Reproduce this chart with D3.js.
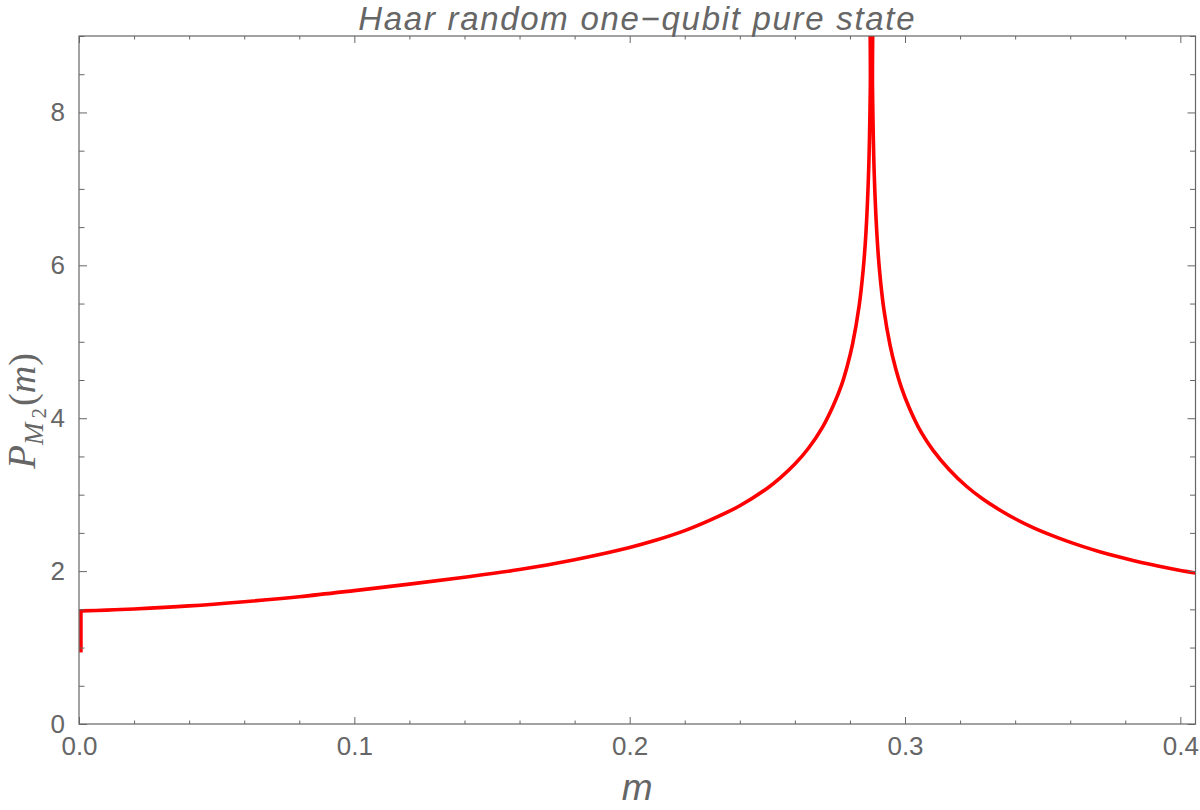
<!DOCTYPE html>
<html><head><meta charset="utf-8">
<script src="https://cdn.jsdelivr.net/npm/d3@7"></script>
<style>body{margin:0;background:#fff}svg{display:block}</style>
</head><body>
<svg id="c" width="1200" height="810"></svg>
<script>
// Data: m (x) and P_{M2}(m) (y)
const mValues = [0.0007, 0.0007, 0.01, 0.02, 0.04, 0.06, 0.08, 0.10, 0.12, 0.14, 0.16, 0.18, 0.20, 0.21, 0.22, 0.23, 0.24, 0.25, 0.255, 0.26, 0.265, 0.27, 0.274, 0.277, 0.279, 0.281, 0.2833, 0.2848, 0.2858, 0.2868, 0.2874, 0.2877,
                 0.2879, 0.2882, 0.2888, 0.2898, 0.2908, 0.2923, 0.2946, 0.2966, 0.2986, 0.3016, 0.3058, 0.3102, 0.316, 0.3223, 0.328, 0.3344, 0.3405, 0.3465, 0.3526, 0.3586, 0.3647, 0.3707, 0.3768, 0.3828, 0.389, 0.395, 0.4005, 0.4055];
const pValues = [0.96, 1.48, 1.49, 1.505, 1.545, 1.60, 1.665, 1.745, 1.83, 1.92, 2.02, 2.15, 2.31, 2.41, 2.53, 2.68, 2.855, 3.085, 3.23, 3.40, 3.61, 3.88, 4.17, 4.44, 4.68, 4.98, 5.46, 5.94, 6.42, 7.25, 8.34, 10.0,
                 10.0, 8.32, 7.22, 6.40, 5.91, 5.43, 4.95, 4.65, 4.41, 4.13, 3.82, 3.58, 3.33, 3.11, 2.95, 2.80, 2.675, 2.57, 2.477, 2.395, 2.32, 2.254, 2.194, 2.14, 2.089, 2.044, 2.006, 1.974];
const xMajorTicks = [0, 0.1, 0.2, 0.3, 0.4];
const xTickLabels = ["0.0", "0.1", "0.2", "0.3", "0.4"];
const yMajorTicks = [0, 2, 4, 6, 8];
const yTickLabels = ["0", "2", "4", "6", "8"];
const xMinorTicks = d3.range(0, 0.41, 0.02).filter(v => Math.abs(v*10 - Math.round(v*10)) > 1e-6);
const yMinorTicks = d3.range(0, 9.01, 0.5).filter(v => v % 2 !== 0);
const titleText = "Haar random one\u2212qubit pure state";

const L = 79, R = 1195.5, T = 36, B = 724;
const gray = "#666";
const svg = d3.select("#c");
const x = d3.scaleLinear().domain([0, 0.4055]).range([L, R]);
const y = d3.scaleLinear().domain([0, 9]).range([B, T]);

svg.append("defs").append("clipPath").attr("id","clip")
  .append("rect").attr("x", L).attr("y", T).attr("width", R-L).attr("height", B-T);

// curve: vertical start segment + smooth main curve
const data = mValues.map((m,i)=>[m, pValues[i]]);
const curveG = svg.append("g").attr("clip-path","url(#clip)");
curveG.append("path").datum(data.slice(0,2))
  .attr("fill","none").attr("stroke","#ff0000").attr("stroke-width",3.6).attr("stroke-linecap","square")
  .attr("d", d3.line().x(d=>x(d[0])).y(d=>y(d[1])));
curveG.append("path").datum(data.slice(1))
  .attr("fill","none").attr("stroke","#ff0000").attr("stroke-width",3.6)
  .attr("stroke-linejoin","round")
  .attr("d", d3.line().x(d=>x(d[0])).y(d=>y(d[1])).curve(d3.curveCatmullRom.alpha(0.5)));

// axes
const font = "'Liberation Sans', Arial, sans-serif";
function styleAxis(g){ g.select(".domain").remove(); g.selectAll("line").attr("stroke", gray); }
const fmtX = (d,i)=>xTickLabels[i];
svg.append("g").attr("transform",`translate(0,${B})`)
  .call(d3.axisBottom(x).tickValues(xMajorTicks).tickFormat(fmtX).tickSize(-7).tickPadding(13))
  .call(styleAxis)
  .call(g=>g.selectAll("text").attr("fill",gray).style("font-family",font).style("font-size","26px"));
svg.append("g").attr("transform",`translate(0,${B})`)
  .call(d3.axisBottom(x).tickValues(xMinorTicks).tickFormat("").tickSize(-3.5)).call(styleAxis);
svg.append("g").attr("transform",`translate(0,${T})`)
  .call(d3.axisTop(x).tickValues(xMajorTicks).tickFormat("").tickSize(-7)).call(styleAxis);
svg.append("g").attr("transform",`translate(0,${T})`)
  .call(d3.axisTop(x).tickValues(xMinorTicks).tickFormat("").tickSize(-3.5)).call(styleAxis);

svg.append("g").attr("transform",`translate(${L},0)`)
  .call(d3.axisLeft(y).tickValues(yMajorTicks).tickFormat((d,i)=>yTickLabels[i]).tickSize(-8).tickPadding(14))
  .call(styleAxis)
  .call(g=>g.selectAll("text").attr("fill",gray).style("font-family",font).style("font-size","26px"));
svg.append("g").attr("transform",`translate(${L},0)`)
  .call(d3.axisLeft(y).tickValues(yMinorTicks).tickFormat("").tickSize(-5.5)).call(styleAxis);
svg.append("g").attr("transform",`translate(${R},0)`)
  .call(d3.axisRight(y).tickValues(yMajorTicks).tickFormat("").tickSize(-8)).call(styleAxis);
svg.append("g").attr("transform",`translate(${R},0)`)
  .call(d3.axisRight(y).tickValues(yMinorTicks).tickFormat("").tickSize(-5.5)).call(styleAxis);

// frame
svg.append("rect").attr("x",L).attr("y",T).attr("width",R-L).attr("height",B-T)
  .attr("fill","none").attr("stroke",gray).attr("stroke-width",1.2);

// title
svg.append("text").attr("x",(L+R)/2).attr("y",30).attr("text-anchor","middle")
  .attr("fill",gray).style("font-family",font).style("font-style","italic").style("font-size","33px")
  .style("letter-spacing","1.7px")
  .text(titleText);

// x label
svg.append("text").attr("x",(L+R)/2).attr("y",800).attr("text-anchor","middle")
  .attr("fill",gray).style("font-family",font).style("font-style","italic").style("font-size","37px")
  .text("m");

// y label
const serif = "'Liberation Serif', 'Times New Roman', serif";
const yl = svg.append("text").attr("transform","translate(35,411) rotate(-90)")
  .attr("text-anchor","middle").attr("fill",gray).style("font-family",serif).style("font-style","italic");
yl.append("tspan").style("font-size","39px").text("P");
yl.append("tspan").style("font-size","27px").attr("dy",8).text("M");
yl.append("tspan").style("font-size","21px").style("font-style","normal").attr("dy",3).attr("dx",4).text("2");
yl.append("tspan").style("font-size","38px").style("font-style","normal").attr("dy",-11).attr("dx",2).text("(");
yl.append("tspan").style("font-size","38px").text("m");
yl.append("tspan").style("font-size","38px").style("font-style","normal").text(")");
</script>
</body></html>
